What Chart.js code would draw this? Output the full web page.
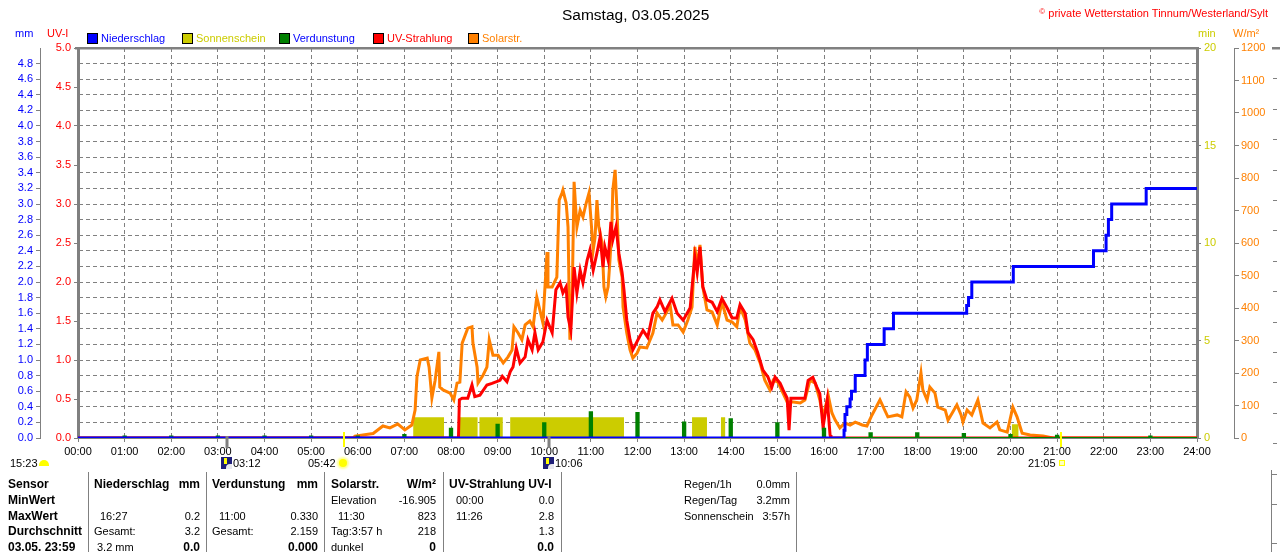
<!DOCTYPE html>
<html lang="de">
<head>
<meta charset="utf-8">
<title>Samstag, 03.05.2025</title>
<script src="https://cdn.jsdelivr.net/npm/chart.js@4.4.1/dist/chart.umd.min.js"></script>
<style>
  html, body { margin: 0; padding: 0; background: #fff; }
  body { position: relative; width: 1280px; height: 552px; overflow: hidden;
         font-family: "Liberation Sans", Arial, sans-serif; font-size: 11px; color: #000; }
  #chart { position: absolute; left: 0; top: 0; }
  .abs { position: absolute; white-space: nowrap; line-height: 14px; }
  .title { font-size: 15.5px; line-height: 18px; }
  .blue { color: #0000ff; }
  .red { color: #ff0000; }
  .yel { color: #cccc00; }
  .ora { color: #ff8000; }
  .leg { position: absolute; top: 31px; height: 14px; line-height: 14px; white-space: nowrap; }
  .leg i { position: absolute; left: 0; top: 2px; width: 9px; height: 9px; border: 1px solid #000; }
  .leg span { position: absolute; left: 14px; top: 0; }
  .sep { position: absolute; top: 472px; height: 80px; width: 1px; background: #808080; }
  .col { position: absolute; top: 477px; }
  .row { position: relative; height: 15.75px; line-height: 15.75px; white-space: nowrap; }
  .row b { font-size: 12px; }
  .row .r { position: absolute; right: 0; top: 0; }
  .moonset { position: absolute; width: 10px; height: 6px; border-radius: 5px 5px 0 0; background: #ffff00; }
  .moonicon { position: absolute; width: 11px; height: 12px; background: #1e1e78; overflow: hidden; }
  .moonicon::before { content: ""; position: absolute; left: 3px; top: 1px; width: 3px; height: 6px; background: #ffff00; }
  .moonicon::after { content: ""; position: absolute; left: 5px; top: 7px; width: 7px; height: 6px; border-radius: 4px 0 0 0; background: #e8e8f0; }
  .sun { position: absolute; width: 8px; height: 8px; border-radius: 50%; background: #ffff00; box-shadow: 0 0 2px 2px #ffff90; }
  .sunset { position: absolute; width: 4px; height: 4px; border: 1px solid #ffff00; background: #ffffc0; }
</style>
</head>
<body>
<canvas id="chart" width="1280" height="552"></canvas>

<div class="abs title" style="left:562px;top:6px">Samstag, 03.05.2025</div>
<div class="abs red" style="right:12px;top:5px"><span style="font-size:8px;vertical-align:3px">©</span> private Wetterstation Tinnum/Westerland/Sylt</div>

<div class="abs blue" style="left:15px;top:26px">mm</div>
<div class="abs red" style="left:47px;top:26px">UV-I</div>
<div class="abs yel" style="left:1198px;top:26px">min</div>
<div class="abs ora" style="left:1233px;top:26px">W/m²</div>

<div class="leg" style="left:87px"><i style="background:#0000ff"></i><span class="blue">Niederschlag</span></div>
<div class="leg" style="left:182px"><i style="background:#cccc00"></i><span class="yel">Sonnenschein</span></div>
<div class="leg" style="left:279px"><i style="background:#008000"></i><span class="blue">Verdunstung</span></div>
<div class="leg" style="left:373px"><i style="background:#ff0000"></i><span class="red">UV-Strahlung</span></div>
<div class="leg" style="left:468px"><i style="background:#ff8000"></i><span class="ora">Solarstr.</span></div>

<div class="abs" style="left:10px;top:456px">15:23</div>
<span class="moonset" style="left:39px;top:460px"></span>
<span class="moonicon" style="left:221px;top:457px"></span>
<div class="abs" style="left:233px;top:456px">03:12</div>
<div class="abs" style="left:308px;top:456px">05:42</div>
<span class="sun" style="left:339px;top:459px"></span>
<span class="moonicon" style="left:543px;top:457px"></span>
<div class="abs" style="left:555px;top:456px">10:06</div>
<div class="abs" style="left:1028px;top:456px">21:05</div>
<span class="sunset" style="left:1059px;top:460px"></span>

<div class="sep" style="left:88px"></div>
<div class="sep" style="left:206px"></div>
<div class="sep" style="left:324px"></div>
<div class="sep" style="left:443px"></div>
<div class="sep" style="left:561px"></div>
<div class="sep" style="left:796px"></div>
<div class="sep" style="left:1271px;top:470px;height:82px"></div>
<div class="sep" style="left:1271px;top:474px;height:1px;width:6px"></div>
<div class="sep" style="left:1271px;top:504px;height:1px;width:6px"></div>
<div class="sep" style="left:1271px;top:543px;height:1px;width:6px"></div>

<div class="col" style="left:8px;width:78px">
  <div class="row"><b>Sensor</b></div>
  <div class="row"><b>MinWert</b></div>
  <div class="row"><b>MaxWert</b></div>
  <div class="row"><b>Durchschnitt</b></div>
  <div class="row"><b>03.05. 23:59</b></div>
</div>
<div class="col" style="left:94px;width:106px">
  <div class="row"><b>Niederschlag</b><b class="r">mm</b></div>
  <div class="row"></div>
  <div class="row"><span style="margin-left:6px">16:27</span><span class="r">0.2</span></div>
  <div class="row"><span>Gesamt:</span><span class="r">3.2</span></div>
  <div class="row"><span style="margin-left:3px">3.2 mm</span><b class="r">0.0</b></div>
</div>
<div class="col" style="left:212px;width:106px">
  <div class="row"><b>Verdunstung</b><b class="r">mm</b></div>
  <div class="row"></div>
  <div class="row"><span style="margin-left:7px">11:00</span><span class="r">0.330</span></div>
  <div class="row"><span>Gesamt:</span><span class="r">2.159</span></div>
  <div class="row"><b class="r">0.000</b></div>
</div>
<div class="col" style="left:331px;width:105px">
  <div class="row"><b>Solarstr.</b><b class="r">W/m²</b></div>
  <div class="row"><span>Elevation</span><span class="r">-16.905</span></div>
  <div class="row"><span style="margin-left:7px">11:30</span><span class="r">823</span></div>
  <div class="row"><span>Tag:3:57 h</span><span class="r">218</span></div>
  <div class="row"><span>dunkel</span><b class="r">0</b></div>
</div>
<div class="col" style="left:449px;width:105px">
  <div class="row"><b>UV-Strahlung UV-I</b></div>
  <div class="row"><span style="margin-left:7px">00:00</span><span class="r">0.0</span></div>
  <div class="row"><span style="margin-left:7px">11:26</span><span class="r">2.8</span></div>
  <div class="row"><span class="r">1.3</span></div>
  <div class="row"><b class="r">0.0</b></div>
</div>
<div class="col" style="left:684px;width:106px">
  <div class="row"><span>Regen/1h</span><span class="r">0.0mm</span></div>
  <div class="row"><span>Regen/Tag</span><span class="r">3.2mm</span></div>
  <div class="row"><span>Sonnenschein</span><span class="r">3:57h</span></div>
</div>

<script>
// x axis: hours of the day 0..24
const hourLabels = ['00:00', '01:00', '02:00', '03:00', '04:00', '05:00', '06:00', '07:00', '08:00',
    '09:00', '10:00', '11:00', '12:00', '13:00', '14:00', '15:00', '16:00', '17:00', '18:00',
    '19:00', '20:00', '21:00', '22:00', '23:00', '24:00'];

// Niederschlag, daily sum in mm (step line)
const rainTimes = [0, 16.43, 16.45, 16.49, 16.56, 16.59, 16.67, 16.88, 16.93, 17.29, 17.49,
    19.06, 19.10, 19.17, 20.06, 21.78, 22.05, 22.10, 22.17, 22.91, 24];
const rainValues = [0, 0.1, 0.3, 0.4, 0.5, 0.6, 0.8, 1.0, 1.2, 1.4, 1.6,
    1.7, 1.8, 2.0, 2.2, 2.4, 2.6, 2.8, 3.0, 3.2, 3.2];

// Sonnenschein, minutes per interval (blocks)
const sunStart = [7.19, 8.16, 8.61, 9.27, 13.17, 13.79, 20.03];
const sunEnd = [7.85, 8.57, 9.11, 11.71, 13.49, 13.88, 20.17];
const sunMinutes = [1.06, 1.06, 1.06, 1.06, 1.06, 1.06, 0.7];

// Verdunstung, mm per hour
const evapHours = [1, 2, 3, 4, 5, 6, 7, 8, 9, 10, 11, 12, 13, 14, 15, 16, 17, 18, 19, 20, 21, 22, 23];
const evapValues = [0.02, 0.02, 0.02, 0.02, 0.02, 0.02, 0.04, 0.12, 0.17, 0.19, 0.33, 0.32,
    0.20, 0.24, 0.19, 0.12, 0.06, 0.06, 0.05, 0.04, 0.03, 0, 0.02];

// UV-Strahlung, UV index
const uvTimes = [0, 8.16, 8.18, 8.24, 8.36, 8.45, 8.51, 8.62, 8.77, 8.88, 9.05, 9.10, 9.20, 9.27,
    9.33, 9.40, 9.48, 9.59, 9.65, 9.74, 9.80, 9.87, 9.97, 10.06, 10.17, 10.25, 10.34, 10.40,
    10.47, 10.51, 10.57, 10.64, 10.70, 10.77, 10.83, 10.92, 10.98, 11.05, 11.13, 11.20, 11.26,
    11.30, 11.37, 11.43, 11.47, 11.54, 11.60, 11.67, 11.71, 11.77, 11.84, 11.90, 12.01, 12.12,
    12.22, 12.33, 12.42, 12.48, 12.59, 12.74, 12.85, 12.98, 13.13, 13.23, 13.28, 13.34, 13.40,
    13.49, 13.60, 13.71, 13.81, 13.92, 14.03, 14.13, 14.20, 14.31, 14.37, 14.48, 14.58, 14.69,
    14.80, 14.88, 14.95, 15.06, 15.12, 15.21, 15.25, 15.29, 15.59, 15.66, 15.76, 15.85, 15.91,
    15.98, 16.07, 16.13, 16.15, 24];
const uvValues = [0, 0, 0.49, 0.51, 0.51, 0.68, 0.53, 0.55, 0.68, 0.70, 0.74, 0.79, 0.72, 0.85,
    0.91, 1.15, 0.96, 1.04, 1.26, 1.13, 1.35, 1.13, 1.23, 1.51, 1.35, 1.90, 1.99, 1.86,
    1.94, 1.55, 1.38, 2.19, 1.86, 2.15, 1.99, 2.28, 2.41, 2.15, 2.37, 2.58, 2.19,
    2.45, 2.28, 2.77, 2.54, 2.71, 2.37, 2.12, 1.90, 1.51, 1.26, 1.13, 1.26, 1.38,
    1.29, 1.60, 1.68, 1.77, 1.62, 1.79, 1.60, 1.51, 1.67, 2.32, 2.12, 2.45, 1.94,
    1.77, 1.74, 1.62, 1.79, 1.67, 1.54, 1.54, 1.71, 1.60, 1.35, 1.26, 1.09, 0.87,
    0.78, 0.65, 0.78, 0.70, 0.62, 0.51, 0.10, 0.51, 0.51, 0.74, 0.78, 0.65, 0.57,
    0.14, 0.49, 0.04, 0, 0];

// Solarstrahlung, W/m2
const solarTimes = [0, 5.90, 5.94, 6.33, 6.54, 6.69, 6.86, 7.01, 7.16, 7.23, 7.27, 7.34, 7.49,
    7.53, 7.59, 7.66, 7.74, 7.76, 7.83, 7.98, 8.06, 8.13, 8.19, 8.24, 8.36, 8.45, 8.47, 8.56,
    8.58, 8.69, 8.77, 8.82, 8.90, 9.01, 9.12, 9.22, 9.31, 9.35, 9.44, 9.52, 9.59, 9.69, 9.76,
    9.84, 9.89, 9.97, 10.06, 10.08, 10.17, 10.27, 10.32, 10.38, 10.40, 10.47, 10.51, 10.55,
    10.60, 10.64, 10.70, 10.77, 10.83, 10.90, 10.96, 11.05, 11.09, 11.13, 11.17, 11.24, 11.28,
    11.32, 11.37, 11.41, 11.45, 11.47, 11.52, 11.56, 11.60, 11.67, 11.69, 11.77, 11.84, 11.90,
    11.99, 12.05, 12.20, 12.33, 12.42, 12.53, 12.63, 12.70, 12.76, 12.87, 12.98, 13.08, 13.17,
    13.23, 13.28, 13.34, 13.40, 13.49, 13.60, 13.71, 13.81, 13.92, 14.03, 14.13, 14.20, 14.31,
    14.41, 14.52, 14.63, 14.73, 14.84, 14.91, 15.01, 15.12, 15.21, 15.34, 15.49, 15.59, 15.70,
    15.81, 15.91, 15.98, 16.09, 16.17, 16.24, 16.34, 16.45, 16.56, 16.67, 16.82, 16.92, 17.03,
    17.20, 17.37, 17.57, 17.67, 17.76, 17.84, 17.91, 17.99, 18.08, 18.12, 18.21, 18.27, 18.38,
    18.44, 18.60, 18.66, 18.75, 18.85, 18.94, 18.98, 19.07, 19.17, 19.30, 19.41, 19.56, 19.71,
    19.77, 19.93, 20.05, 20.14, 20.25, 20.42, 20.70, 20.91, 24];
const solarValues = [0, 0, 6, 14, 37, 31, 43, 25, 40, 86, 189, 240, 246,
    218, 123, 178, 265, 157, 148, 138, 117, 169, 172, 292, 338, 342, 292, 218,
    169, 194, 218, 302, 255, 255, 231, 249, 271, 342, 323, 302, 348, 360, 342,
    434, 403, 354, 572, 465, 465, 495, 732, 754, 763, 723, 649, 302,
    446, 788, 649, 701, 680, 723, 754, 578, 618, 732, 649, 600, 465,
    434, 465, 548, 649, 763, 825, 701, 548, 495, 403, 323, 271, 246,
    261, 280, 277, 323, 385, 363, 388, 409, 348, 348, 326, 363, 403,
    588, 526, 594, 465, 394, 388, 348, 418, 363, 357, 342, 403, 363,
    292, 271, 231, 178, 148, 178, 172, 138, 111, 111, 108, 117, 178,
    169, 117, 65, 132, 77, 55, 31, 46, 40, 49, 40, 37, 71,
    117, 65, 71, 65, 142, 126, 92, 117, 200, 148, 117, 157, 138,
    95, 86, 55, 77, 102, 71, 49, 86, 71, 117, 46, 31, 49,
    25, 18, 95, 65, 15, 9, 6, 0, 0];

// sunrise / sunset and moon markers (hours)
const sunEvents = [5.70, 21.083];
const moonEvents = [3.20, 10.10];

const grey = '#808080';

const pts = (xs, ys) => xs.map((x, i) => ({ x, y: ys[i] }));

// rectangular blocks for a stepped, filled line
function blocks(starts, ends, vals) {
    const out = [{ x: 0, y: 0 }];
    starts.forEach((s, i) => {
        out.push({ x: s, y: vals[i] }, { x: ends[i], y: 0 });
    });
    out.push({ x: 24, y: 0 });
    return out;
}

const extras = {
    id: 'extras',
    beforeDatasetsDraw(chart) {
        const { ctx, chartArea: a } = chart;
        ctx.save();
        ctx.fillStyle = grey;
        ctx.fillRect(a.left - 3, a.top - 1, a.right - a.left + 5, 2.5);
        ctx.restore();
    },
    afterDatasetsDraw(chart) {
        const { ctx, chartArea: a, scales: { x } } = chart;
        ctx.save();
        ctx.lineWidth = 2;
        ctx.strokeStyle = '#ffff00';
        sunEvents.forEach(t => {
            const px = Math.round(x.getPixelForValue(t));
            ctx.beginPath();
            ctx.moveTo(px, a.bottom - 6);
            ctx.lineTo(px, a.bottom + 9);
            ctx.stroke();
        });
        ctx.lineWidth = 3;
        ctx.strokeStyle = grey;
        moonEvents.forEach(t => {
            const px = Math.round(x.getPixelForValue(t));
            ctx.beginPath();
            ctx.moveTo(px, a.bottom - 2);
            ctx.lineTo(px, a.bottom + 10);
            ctx.stroke();
        });
        // edge of the next panel at the right border
        ctx.fillStyle = grey;
        ctx.fillRect(chart.width - 8, a.top - 1, 8, 2.5);
        ctx.lineWidth = 1;
        ctx.setLineDash([4, 3]);
        for (let y = a.top + 30.4; y < a.bottom + 8; y += 30.4) {
            ctx.beginPath();
            ctx.moveTo(chart.width - 7, Math.round(y) + 0.5);
            ctx.lineTo(chart.width, Math.round(y) + 0.5);
            ctx.stroke();
        }
        ctx.restore();
    }
};

Chart.defaults.font.family = "'Liberation Sans', Arial, sans-serif";
Chart.defaults.font.size = 11;

new Chart(document.getElementById('chart'), {
    type: 'line',
    data: {
        datasets: [
            {
                label: 'Niederschlag',
                data: pts(rainTimes, rainValues),
                yAxisID: 'mm',
                borderColor: '#0000ff',
                borderWidth: 3,
                stepped: true,
                pointRadius: 0,
                fill: false
            },
            {
                label: 'Verdunstung',
                data: blocks(evapHours.map(h => h - 0.025), evapHours.map(h => h + 0.025), evapValues),
                yAxisID: 'mm',
                borderColor: '#008000',
                backgroundColor: '#008000',
                borderWidth: 2,
                stepped: true,
                pointRadius: 0,
                fill: 'origin'
            },
            {
                label: 'UV-Strahlung',
                data: pts(uvTimes, uvValues),
                yAxisID: 'uv',
                borderColor: '#ff0000',
                borderWidth: 3,
                pointRadius: 0,
                tension: 0,
                fill: false
            },
            {
                label: 'Solarstr.',
                data: pts(solarTimes, solarValues),
                yAxisID: 'wm',
                borderColor: '#ff8000',
                borderWidth: 3,
                pointRadius: 0,
                tension: 0,
                fill: false
            },
            {
                label: 'Sonnenschein',
                data: blocks(sunStart, sunEnd, sunMinutes),
                yAxisID: 'min',
                borderColor: '#cccc00',
                backgroundColor: '#cccc00',
                borderWidth: 0,
                stepped: true,
                pointRadius: 0,
                fill: 'origin'
            }
        ]
    },
    options: {
        responsive: false,
        animation: false,
        events: [],
        layout: { padding: { top: 48, left: 0, right: 0, bottom: 0 } },
        plugins: {
            legend: { display: false },
            tooltip: { enabled: false }
        },
        scales: {
            x: {
                type: 'linear',
                min: 0,
                max: 24,
                afterFit: s => { s.height = 114; },
                grid: { color: grey, lineWidth: 1, drawTicks: true, tickLength: 4, tickColor: grey, tickBorderDash: [] },
                border: { display: true, color: grey, width: 2, dash: [4, 3] },
                ticks: {
                    stepSize: 1,
                    autoSkip: false,
                    maxRotation: 0,
                    color: '#000',
                    padding: 3,
                    callback: v => hourLabels[v]
                }
            },
            mm: {
                type: 'linear',
                position: 'left',
                weight: 2,
                min: 0,
                max: 5,
                afterFit: s => { s.width = 40; },
                grid: { color: grey, drawTicks: true, tickLength: 4, tickColor: grey, tickBorderDash: [] },
                border: { color: grey, width: 1, dash: [4, 3] },
                ticks: {
                    stepSize: 0.2,
                    color: '#0000ff',
                    padding: 3,
                    callback: v => (v > 4.9 ? null : v.toFixed(1))
                }
            },
            uv: {
                type: 'linear',
                position: 'left',
                weight: 1,
                min: 0,
                max: 5,
                afterFit: s => { s.width = 38; },
                grid: { drawOnChartArea: false, tickLength: 4, color: grey },
                border: { color: grey, width: 3 },
                ticks: { stepSize: 0.5, color: '#ff0000', padding: 3, callback: v => v.toFixed(1) }
            },
            min: {
                type: 'linear',
                position: 'right',
                weight: 1,
                min: 0,
                max: 20,
                afterFit: s => { s.width = 37; },
                grid: { drawOnChartArea: false, tickLength: 4, color: grey },
                border: { color: grey, width: 3 },
                ticks: { stepSize: 5, color: '#cccc00', padding: 3, callback: v => String(v) }
            },
            wm: {
                type: 'linear',
                position: 'right',
                weight: 2,
                min: 0,
                max: 1200,
                afterFit: s => { s.width = 46; },
                grid: { drawOnChartArea: false, tickLength: 5, color: grey },
                border: { color: grey, width: 1 },
                ticks: { stepSize: 100, color: '#ff8000', padding: 2, callback: v => String(v) }
            }
        }
    },
    plugins: [extras]
});
</script>
</body>
</html>
